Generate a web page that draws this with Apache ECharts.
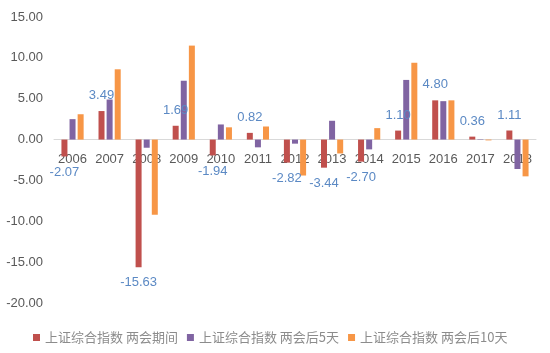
<!DOCTYPE html>
<html>
<head>
<meta charset="utf-8">
<script src="https://cdn.jsdelivr.net/npm/echarts@6/dist/echarts.min.js"></script>
<style>
  html, body { margin: 0; padding: 0; background: #fff; }
  #chart { width: 550px; height: 353px; }
</style>
</head>
<body>
<div id="chart"></div>
<script>
const years = ['2006', '2007', '2008', '2009', '2010', '2011', '2012', '2013', '2014', '2015', '2016', '2017', '2018']
const duringMeeting = [-2.07, 3.49, -15.63, 1.69, -1.94, 0.82, -2.82, -3.44, -2.70, 1.10, 4.80, 0.36, 1.11]
const after5Days = [2.5, 4.9, -1.0, 7.2, 1.85, -0.95, -0.5, 2.3, -1.2, 7.3, 4.7, -0.05, -3.6]
const after10Days = [3.1, 8.6, -9.2, 11.5, 1.5, 1.6, -4.4, -1.7, 1.4, 9.4, 4.8, -0.1, -4.5]
const seriesNames = ['上证综合指数 两会期间', '上证综合指数 两会后5天', '上证综合指数 两会后10天']

const chart = echarts.init(document.getElementById('chart'))

// 红色系列带数值标签，正值在上方，负值在下方
const duringData = duringMeeting.map(function (v) {
  return {
    value: v,
    label: { position: v >= 0 ? 'top' : 'bottom' }
  }
})

const gridTop = 17
const gridBottom = 50
const yMin = -20
const yMax = 15
// x轴放在0刻度处
const plotHeight = 353 - gridTop - gridBottom
const zeroOffset = -plotHeight * (0 - yMin) / (yMax - yMin)

const options = {
  animation: false,
  color: ['#c0504d', '#8064a2', '#f79646'],
  grid: { left: 54, right: 14, top: gridTop, bottom: gridBottom },
  legend: {
    bottom: 4,
    left: 28,
    itemWidth: 7,
    itemHeight: 7,
    itemGap: 9,
    icon: 'rect',
    textStyle: { color: '#8c8c8c', fontSize: 13, fontFamily: 'Noto Sans CJK SC' },
    data: seriesNames
  },
  xAxis: {
    type: 'category',
    data: years,
    offset: zeroOffset,
    axisTick: { show: false },
    axisLine: { onZero: false, lineStyle: { color: '#d9d9d9' } },
    axisLabel: { interval: 0, color: '#595959', fontSize: 13, margin: 13, fontFamily: 'Liberation Sans' }
  },
  yAxis: {
    type: 'value',
    min: yMin,
    max: yMax,
    interval: 5,
    splitLine: { show: false },
    axisLine: { show: false },
    axisTick: { show: false },
    axisLabel: {
      color: '#595959',
      fontSize: 13,
      margin: 11,
      fontFamily: 'Liberation Sans',
      formatter: function (v) { return v.toFixed(2) }
    }
  },
  series: [
    {
      name: seriesNames[0],
      type: 'bar',
      barWidth: 6,
      barGap: '35%',
      data: duringData,
      label: {
        show: true,
        distance: 9,
        color: '#5b89c4',
        fontSize: 13,
        fontFamily: 'Liberation Sans',
        formatter: function (p) { return p.value.toFixed(2) }
      }
    },
    {
      name: seriesNames[1],
      type: 'bar',
      barWidth: 6,
      barGap: '35%',
      data: after5Days
    },
    {
      name: seriesNames[2],
      type: 'bar',
      barWidth: 6,
      barGap: '35%',
      data: after10Days
    }
  ]
}

chart.setOption(options)
</script>
</body>
</html>
